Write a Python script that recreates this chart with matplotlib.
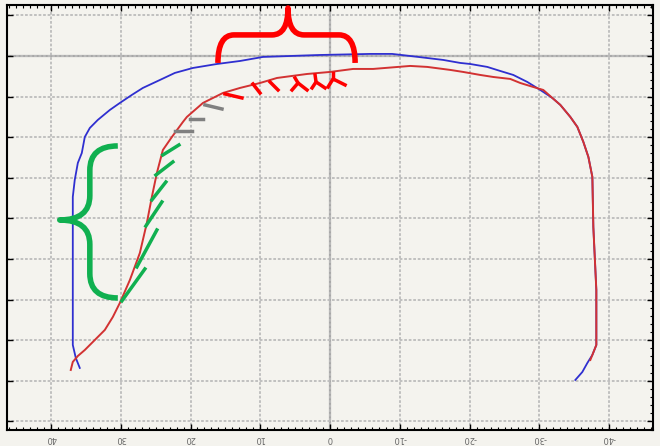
import matplotlib.pyplot as plt
from matplotlib.path import Path
from matplotlib.patches import PathPatch
import numpy as np

# profil de referencia (azul) y profil medido (rojo), en mm
blue_x = [35.87, 36.44, 36.87, 36.87, 36.87, 36.87, 36.59, 36.15, 35.58, 35.15, 34.43,
          33.29, 31.56, 30.13, 28.41, 26.83, 24.39, 22.24, 19.66, 16.21, 12.91, 9.61,
          1.43, -5.74, -8.90, -12.63, -16.21, -18.65, -20.09, -22.53, -24.39, -26.26,
          -28.26, -30.13, -31.85, -33.00, -34.43, -35.44, -36.30, -37.02, -37.59,
          -37.73, -38.16, -38.16, -37.59, -36.87, -36.15, -35.15]
blue_y = [-38.42, -37.19, -35.59, -30.05, -23.89, -17.36, -15.27, -13.18, -11.95, -9.98,
          -8.87, -7.88, -6.65, -5.79, -4.80, -3.94, -2.96, -2.09, -1.48, -0.99, -0.62,
          -0.12, 0.12, 0.25, 0.25, -0.12, -0.49, -0.86, -0.99, -1.35, -1.85, -2.34,
          -3.20, -4.19, -5.17, -6.03, -7.51, -8.74, -10.59, -12.44, -14.90, -21.06,
          -28.82, -35.59, -36.82, -37.81, -38.92, -39.90]

red_x = [37.16, 36.87, 36.15, 35.15, 33.72, 32.28, 31.13, 30.13, 28.69, 27.26, 26.26,
         25.54, 24.82, 23.96, 22.67, 21.09, 20.52, 18.22, 15.35, 12.91, 10.04, 7.60,
         3.30, 0.0, -3.30, -6.17, -11.48, -13.92, -17.22, -19.08, -21.52, -23.39,
         -25.82, -27.26, -29.12, -30.56, -31.85, -33.00, -34.43, -35.44, -36.30,
         -37.02, -37.59, -37.73, -38.16, -38.16, -37.59, -37.30]
red_y = [-38.67, -37.68, -36.95, -36.21, -34.98, -33.74, -32.14, -30.42, -27.59, -24.26,
         -20.57, -17.36, -14.41, -11.58, -9.98, -8.13, -7.51, -5.79, -4.56, -3.94,
         -3.33, -2.71, -2.22, -1.97, -1.60, -1.60, -1.23, -1.35, -1.72, -1.97, -2.34,
         -2.59, -2.83, -3.33, -3.82, -4.19, -5.17, -6.03, -7.51, -8.74, -10.59,
         -12.44, -14.90, -21.06, -28.82, -35.59, -36.82, -37.44]

x_ticks = [40, 30, 20, 10, 0, -10, -20, -30, -40]
x_labels = ['40', '30', '20', '10', '0', '-10', '-20', '-30', '-40']
y_ticks = [5, 0, -5, -10, -15, -20, -25, -30, -35, -40, -45]

# marcas de anotacion (segmentos x0, y0, x1, y1)
green_marks = [(29.84, -30.17, 26.54, -26.23), (27.69, -25.98, 24.82, -21.43),
               (26.40, -20.94, 24.10, -17.98), (25.54, -17.73, 23.53, -15.52),
               (24.96, -14.66, 22.53, -13.05), (23.96, -12.19, 21.66, -10.96)]
gray_marks = [(22.24, -9.24, 19.80, -9.24), (20.09, -7.76, 18.22, -7.76),
              (17.93, -6.03, 15.49, -6.53)]
red_marks = [(15.06, -4.68, 12.63, -5.17), (11.05, -3.45, 10.04, -4.56),
             (8.61, -3.20, 7.46, -4.19)]
red_forks = [(5.02, -2.71, 4.59, -3.33, 5.45, -4.19, 3.30, -4.19),
             (2.15, -2.34, 2.01, -3.20, 2.58, -3.94, 0.72, -3.94),
             (-0.43, -2.09, -0.43, -2.83, 0.29, -3.82, -2.15, -3.57)]

BG = '#f4f3ee'


def llave_h(ax, x0, x1, yb, ym, yt, xt, d, color):
    s = np.sign(x1 - x0)
    verts = [(x0, yb), (x0, ym), (x0 + s * d, ym),
             (xt - s * d, ym), (xt, ym), (xt, yt),
             (xt, ym), (xt + s * d, ym),
             (x1 - s * d, ym), (x1, ym), (x1, yb)]
    codes = [Path.MOVETO, Path.CURVE3, Path.CURVE3,
             Path.LINETO, Path.CURVE3, Path.CURVE3,
             Path.CURVE3, Path.CURVE3,
             Path.LINETO, Path.CURVE3, Path.CURVE3]
    ax.add_patch(PathPatch(Path(verts, codes), fill=False, ec=color, lw=4,
                           capstyle='butt', joinstyle='round', zorder=5))


def llave_v(ax, y0, y1, xb, xm, xt, yt, d, color):
    s = np.sign(y1 - y0)
    verts = [(xb, y0), (xm, y0), (xm, y0 + s * d),
             (xm, yt - s * d), (xm, yt), (xt, yt),
             (xm, yt), (xm, yt + s * d),
             (xm, y1 - s * d), (xm, y1), (xb, y1)]
    codes = [Path.MOVETO, Path.CURVE3, Path.CURVE3,
             Path.LINETO, Path.CURVE3, Path.CURVE3,
             Path.CURVE3, Path.CURVE3,
             Path.LINETO, Path.CURVE3, Path.CURVE3]
    ax.add_patch(PathPatch(Path(verts, codes), fill=False, ec=color, lw=4,
                           capstyle='butt', joinstyle='round', zorder=5))


fig = plt.figure(figsize=(6.6, 4.46), dpi=100, facecolor=BG)
ax = fig.add_axes([0.0106, 0.0359, 0.979, 0.953])
ax.set_facecolor(BG)

ax.set_xlim(46.3, -46.3)
ax.set_ylim(-46.06, 6.28)

ax.set_xticks(x_ticks)
ax.set_xticklabels(x_labels, rotation=180, fontsize=6, color='#666666')
ax.set_yticks(y_ticks)
ax.set_yticklabels([])
ax.set_xticks(np.arange(-46, 47, 1), minor=True)
ax.set_yticks(np.arange(-46, 7, 1), minor=True)

ax.grid(True, which='major', color='#bcbcbc', lw=1.3, linestyle=(0, (1.5, 1)))
ax.axhline(0, color='#a8a8a8', lw=1.6, zorder=1)
ax.axvline(0, color='#a8a8a8', lw=1.6, zorder=1)

ax.tick_params(which='both', direction='in', top=True, right=True, color='black')
ax.tick_params(which='major', length=4, width=1, pad=3)
ax.tick_params(which='minor', length=2.5, width=0.8)
ax.tick_params(axis='y', which='minor', left=False)
for sp in ax.spines.values():
    sp.set_linewidth(1.5)
    sp.set_color('black')

ax.plot(blue_x, blue_y, color='#2f2fd0', lw=1.3, zorder=3)
ax.plot(red_x, red_y, color='#d23232', lw=1.4, zorder=4)

for x0, y0, x1, y1 in green_marks:
    ax.plot([x0, x1], [y0, y1], color='#10b050', lw=2.5, zorder=5)
for x0, y0, x1, y1 in gray_marks:
    ax.plot([x0, x1], [y0, y1], color='#808080', lw=2.5, zorder=5)
for x0, y0, x1, y1 in red_marks:
    ax.plot([x0, x1], [y0, y1], color='#ff0000', lw=2.5, zorder=5)
for x0, y0, x1, y1, xa, ya, xb, yb in red_forks:
    ax.plot([x0, x1], [y0, y1], color='#ff0000', lw=2.5, zorder=5)
    ax.plot([xa, x1, xb], [ya, y1, yb], color='#ff0000', lw=2.5, zorder=5)

llave_h(ax, 16.07, -3.59, -0.86, 2.59, 5.91, 6.03, 2.3, '#ff0000')
llave_v(ax, -11.08, -29.80, 30.42, 34.43, 38.74, -20.20, 3.0, '#10b050')

plt.savefig('out.png', dpi=100, facecolor=BG)
plt.close()
